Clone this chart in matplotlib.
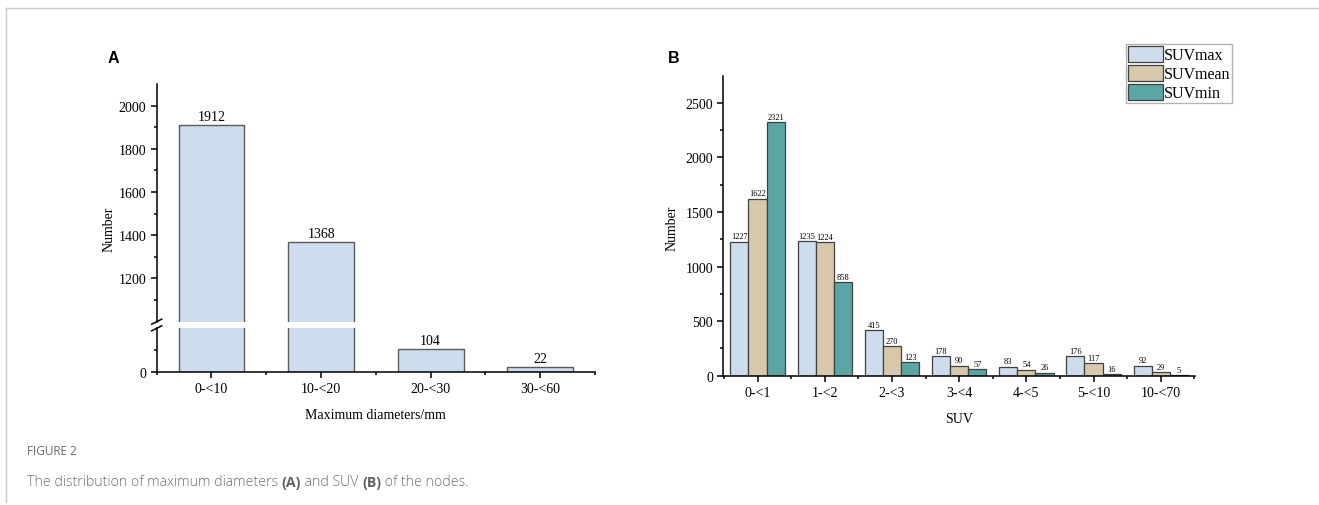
import matplotlib
matplotlib.use("Agg")
import matplotlib.pyplot as plt
import numpy as np

# panel A data
diam_cats = ["0-<10", "10-<20", "20-<30", "30-<60"]
diam_counts = [1912, 1368, 104, 22]

# panel B data
suv_cats = ["0-<1", "1-<2", "2-<3", "3-<4", "4-<5", "5-<10", "10-<70"]
suv_max = [1227, 1235, 415, 178, 83, 176, 92]
suv_mean = [1622, 1224, 270, 90, 54, 117, 29]
suv_min = [2321, 858, 123, 57, 26, 16, 5]
series_names = ["SUVmax", "SUVmean", "SUVmin"]

c_blue = "#cddded"
c_tan = "#d7c7ab"
c_teal = "#5aa6a5"
edge = "#404040"

plt.rcParams["font.family"] = ["Liberation Serif", "DejaVu Serif"]
plt.rcParams["font.size"] = 10
plt.rcParams["axes.linewidth"] = 1.1
plt.rcParams["xtick.major.size"] = 4
plt.rcParams["ytick.major.size"] = 4
plt.rcParams["xtick.minor.size"] = 2.5
plt.rcParams["ytick.minor.size"] = 2.5
plt.rcParams["xtick.major.width"] = 1.1
plt.rcParams["ytick.major.width"] = 1.1
plt.rcParams["xtick.minor.width"] = 1.1
plt.rcParams["ytick.minor.width"] = 1.1

W, H = 1319, 506
fig = plt.figure(figsize=(W / 100, H / 100), dpi=100)


def fx(px):
    return px / W


def fy(py):
    return (H - py) / H


# frame lines of the page
fig.add_artist(plt.Line2D([fx(6), fx(6)], [fy(9), fy(503)], color="#c8c8c8", lw=1))
fig.add_artist(plt.Line2D([fx(6), 1.0], [fy(9), fy(9)], color="#c8c8c8", lw=1))

# ---------- panel A (broken y axis) ----------
left_a, right_a = 156.7, 595
ax_lo = fig.add_axes([fx(left_a), fy(372.7), fx(right_a - left_a), 43.7 / H])
ax_hi = fig.add_axes([fx(left_a), fy(322.7), fx(right_a - left_a), 237.7 / H])

x_a = np.arange(len(diam_cats))
for ax in (ax_lo, ax_hi):
    ax.bar(x_a, diam_counts, width=0.6, color=c_blue, edgecolor="#5a5a5a", linewidth=1.0)
    ax.set_xlim(-0.5, len(diam_cats) - 0.5)
    ax.spines["right"].set_visible(False)
    ax.tick_params(which="both", direction="out")

ax_hi.set_ylim(1000, 2100)
ax_hi.set_yticks([1200, 1400, 1600, 1800, 2000])
ax_hi.set_yticks([1100, 1300, 1500, 1700, 1900], minor=True)
ax_hi.spines["top"].set_visible(False)
ax_hi.spines["bottom"].set_visible(False)
ax_hi.set_xticks([])

ax_lo.set_ylim(0, 200)
ax_lo.set_yticks([0])
ax_lo.set_yticks([100], minor=True)
ax_lo.spines["top"].set_visible(False)
ax_lo.set_xticks(x_a)
ax_lo.set_xticklabels(diam_cats)
ax_lo.set_xticks(np.arange(len(diam_cats) + 1) - 0.5, minor=True)
ax_lo.set_xlabel("Maximum diameters/mm", labelpad=9)

for xi, v in zip(x_a, diam_counts):
    target = ax_hi if v > 1000 else ax_lo
    target.text(xi, v + 8, str(v), ha="center", va="bottom", fontsize=10)

# break marks on the y axis
for yy in (322.7, 329.3):
    fig.add_artist(plt.Line2D([fx(left_a - 5), fx(left_a + 5)], [fy(yy + 2.5), fy(yy - 2.5)],
                              color="black", lw=1.1))

fig.text(fx(109), fy(229), "Number", rotation=90, ha="center", va="center", fontsize=10)
fig.text(fx(107.3), fy(62.7), "A", fontsize=11.5, fontweight="bold",
         family="Liberation Sans", ha="left", va="baseline")

# ---------- panel B ----------
left_b, right_b = 723.3, 1195
ax_b = fig.add_axes([fx(left_b), fy(376.6), fx(right_b - left_b), (376.6 - 76.7) / H])
x_b = np.arange(len(suv_cats))
bw = 0.27
for off, vals, col, name in zip([-bw, 0, bw], [suv_max, suv_mean, suv_min],
                                [c_blue, c_tan, c_teal], series_names):
    ax_b.bar(x_b + off, vals, width=bw, color=col, edgecolor=edge, linewidth=0.9, label=name)
    for xi, v in zip(x_b + off, vals):
        ax_b.text(xi, v + 12, str(v), ha="center", va="bottom", fontsize=6)

ax_b.set_xlim(-0.51, len(suv_cats) - 0.49)
ax_b.set_ylim(0, 2750)
ax_b.set_yticks([0, 500, 1000, 1500, 2000, 2500])
ax_b.set_yticks(np.arange(250, 2750, 500), minor=True)
ax_b.set_xticks(x_b)
ax_b.set_xticklabels(suv_cats)
ax_b.set_xticks(np.arange(len(suv_cats) + 1) - 0.5, minor=True)
ax_b.spines["top"].set_visible(False)
ax_b.spines["right"].set_visible(False)
ax_b.tick_params(which="both", direction="out")
ax_b.set_xlabel("SUV", labelpad=9)

fig.text(fx(672), fy(228), "Number", rotation=90, ha="center", va="center", fontsize=10)
fig.text(fx(668.3), fy(63.3), "B", fontsize=11.5, fontweight="bold",
         family="Liberation Sans", ha="left", va="baseline")

leg = ax_b.legend(loc="upper right", bbox_to_anchor=(fx(1232), fy(45)),
                  bbox_transform=fig.transFigure, fontsize=11.5, frameon=True,
                  fancybox=False, edgecolor="#a0a0a0", borderpad=0.12,
                  labelspacing=0.1, handlelength=2.2, handleheight=1.15,
                  handletextpad=0.05, borderaxespad=0)
leg.get_frame().set_linewidth(1.0)

# ---------- caption ----------
fig.text(fx(27), fy(455), "FIGURE 2", family="Open Sans", fontsize=8.5,
         color="#6a6a6a", ha="left", va="baseline")

cap_parts = [("The distribution of maximum diameters ", "light"), ("(A)", "bold"),
             (" and SUV ", "light"), ("(B)", "bold"), (" of the nodes.", "light")]
anchor = fig.text(fx(27), fy(486), cap_parts[0][0], family="Open Sans", fontsize=10.2,
                  fontweight="light", color="#707070", ha="left", va="baseline")
for txt, wt in cap_parts[1:]:
    # each piece starts where the previous one ended
    anchor = fig.add_artist(matplotlib.text.Annotation(
        txt, xy=(1, 0), xycoords=anchor, xytext=(0, 0), textcoords="offset points",
        family="Open Sans", fontsize=10.2, fontweight=wt,
        color="#707070" if wt == "light" else "#606060",
        ha="left", va="bottom", annotation_clip=False))

fig.savefig("out.png", dpi=100)
